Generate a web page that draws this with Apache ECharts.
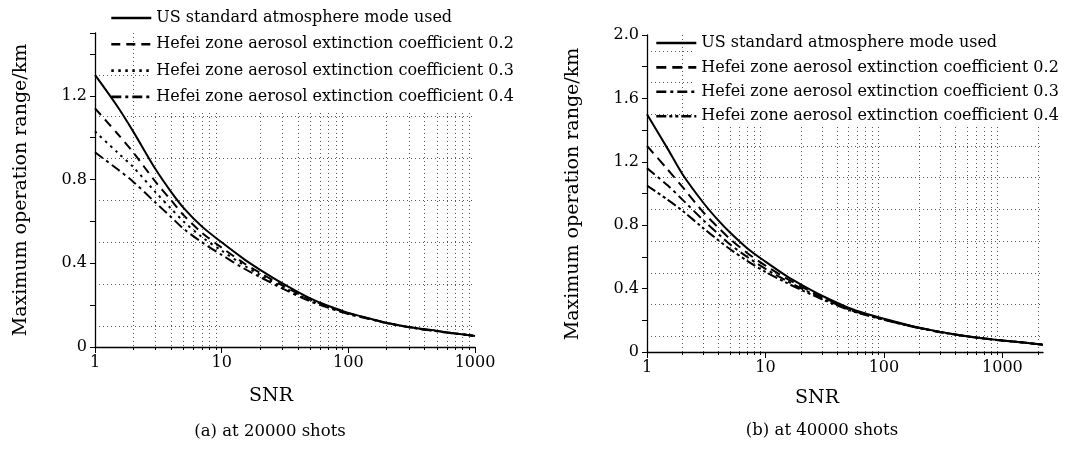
<!DOCTYPE html>
<html><head><meta charset="utf-8">
<script src="https://cdn.jsdelivr.net/npm/echarts@6/dist/echarts.min.js"></script>
<style>html,body{margin:0;padding:0;background:#fff}#c{width:1067px;height:449px}</style>
</head><body><div id="c"></div><script>
// ---------- data ----------
const namesA = ['US standard atmosphere mode used','Hefei zone aerosol extinction coefficient 0.2','Hefei zone aerosol extinction coefficient 0.3','Hefei zone aerosol extinction coefficient 0.4'];
const namesB = namesA;
const snrA = [1, 1.5, 2, 3, 4, 5, 7, 10, 15, 20, 30, 50, 70, 100, 150, 200, 300, 500, 700, 1000];
const usA  = [1.30, 1.15, 1.03, 0.85, 0.74, 0.665, 0.575, 0.50, 0.42, 0.37, 0.305, 0.232, 0.196, 0.163, 0.135, 0.116, 0.096, 0.077, 0.065, 0.053];
const h02A = [1.14, 1.02, 0.93, 0.79, 0.70, 0.63, 0.545, 0.475, 0.40, 0.355, 0.295, 0.227, 0.193, 0.161, 0.134, 0.115, 0.095, 0.076, 0.065, 0.053];
const h03A = [1.03, 0.93, 0.86, 0.74, 0.66, 0.60, 0.525, 0.46, 0.39, 0.345, 0.288, 0.223, 0.19, 0.159, 0.133, 0.115, 0.095, 0.076, 0.064, 0.053];
const h04A = [0.93, 0.85, 0.79, 0.69, 0.62, 0.565, 0.50, 0.44, 0.375, 0.335, 0.28, 0.218, 0.187, 0.157, 0.132, 0.114, 0.094, 0.075, 0.064, 0.053];

const snrB = [1, 1.5, 2, 3, 4, 5, 7, 10, 15, 20, 30, 50, 70, 100, 150, 200, 300, 500, 700, 1000, 1500, 2200];
const usB  = [1.50, 1.28, 1.12, 0.94, 0.83, 0.755, 0.655, 0.57, 0.48, 0.425, 0.355, 0.28, 0.243, 0.21, 0.175, 0.153, 0.127, 0.1, 0.086, 0.073, 0.06, 0.046];
const h02B = [1.30, 1.15, 1.04, 0.88, 0.785, 0.715, 0.625, 0.545, 0.465, 0.413, 0.347, 0.275, 0.24, 0.207, 0.173, 0.152, 0.126, 0.1, 0.086, 0.073, 0.06, 0.046];
const h03B = [1.16, 1.05, 0.96, 0.83, 0.745, 0.68, 0.60, 0.525, 0.45, 0.402, 0.34, 0.27, 0.236, 0.205, 0.172, 0.151, 0.125, 0.099, 0.085, 0.072, 0.06, 0.046];
const h04B = [1.05, 0.96, 0.89, 0.78, 0.705, 0.65, 0.575, 0.505, 0.437, 0.392, 0.333, 0.266, 0.233, 0.203, 0.17, 0.15, 0.125, 0.099, 0.085, 0.072, 0.06, 0.046];

const xMajor = [1, 10, 100, 1000];
const xLabels = ['1', '10', '100', '1000'];
const xMinorA = [2,3,4,5,6,7,8,9,20,30,40,50,60,70,80,90,200,300,400,500,600,700,800,900];
const xMinorB = [2,3,4,5,6,7,8,9,20,30,40,50,60,70,80,90,200,300,400,500,600,700,800,900,2000];
const yLabelA = [0, 0.4, 0.8, 1.2];
const yLabelB = [0, 0.4, 0.8, 1.2, 1.6, 2.0];
const yGridA = [0.1, 0.3, 0.5, 0.7, 0.9, 1.1, 1.3];
const yGridB = [0.1, 0.3, 0.5, 0.7, 0.9, 1.1, 1.3, 1.5, 1.7, 1.9];
const xName = 'SNR';
const yName = 'Maximum operation range/km';
const captionA = '(a) at 20000 shots';
const captionB = '(b) at 40000 shots';

// ---------- styles ----------
const FONT = 'DejaVu Serif';
const dashA = ['solid', [9, 6], [2.5, 4.5], [10, 4, 3, 4]];
const dashB = ['solid', [10, 6], [10, 4, 3, 4], [10, 3, 3, 3, 3, 3]];

function pairs(x, y) { return x.map((v, i) => [v, y[i]]); }
function line(name, x, y, dash, xi, yi) {
  return {
    type: 'line', name, data: pairs(x, y), xAxisIndex: xi, yAxisIndex: yi,
    symbol: 'none', smooth: 0.3, silent: true, animation: false,
    lineStyle: { color: '#000', width: 2, type: dash, cap: 'butt' }
  };
}
function xAxes(grid, max, minor) {
  return [{
    gridIndex: grid, type: 'log', logBase: 10, min: 1, max: max, position: 'bottom',
    axisLine: { show: true, onZero: false, lineStyle: { color: '#000', width: 1.3 } },
    axisTick: { show: true, customValues: xMajor, length: 6, lineStyle: { color: '#000', width: 1 } },
    axisLabel: { customValues: xMajor, formatter: v => xLabels[xMajor.indexOf(v)] ?? String(v),
      fontFamily: FONT, fontSize: 16, color: '#000', margin: 8 },
    splitLine: { show: false }, minorTick: { show: false }
  }, {
    gridIndex: grid, type: 'log', logBase: 10, min: 1, max: max, position: 'bottom',
    axisLine: { show: false },
    axisTick: { show: true, customValues: minor, length: 3, lineStyle: { color: '#000', width: 1 } },
    axisLabel: { show: false },
    splitLine: { show: true, lineStyle: { color: '#555', width: 1, type: [1, 3] } }
  }];
}
function yAxes(grid, max, labels, gridVals) {
  return [{
    gridIndex: grid, type: 'value', min: 0, max: max, interval: 0.2, position: 'left',
    axisLine: { show: true, onZero: false, lineStyle: { color: '#000', width: 1.3 } },
    axisTick: { show: true, length: 5, lineStyle: { color: '#000', width: 1 } },
    axisLabel: { customValues: labels, formatter: v => v === 0 ? '0' : v.toFixed(1),
      fontFamily: FONT, fontSize: 16, color: '#000', margin: 8 },
    splitLine: { show: false }
  }, {
    gridIndex: grid, type: 'value', min: 0, max: max, position: 'left',
    axisLine: { show: false },
    axisTick: { show: false, customValues: gridVals },
    axisLabel: { show: false },
    splitLine: { show: true, lineStyle: { color: '#555', width: 1, type: [1, 3] } }
  }];
}
function legend(names, dashes, left, top, gap) {
  return {
    orient: 'vertical', left, top, itemWidth: 40, itemHeight: 16, itemGap: gap,
    selectedMode: false, padding: 0,
    itemStyle: { opacity: 0 },
    textStyle: { fontFamily: FONT, fontSize: 16, color: '#000', lineHeight: 16 },
    data: names.map((n, i) => ({ name: n,
      lineStyle: { color: '#000', width: 2.6, type: dashes[i], opacity: 1 },
      itemStyle: { opacity: 0, borderWidth: 0 } }))
  };
}

const chart = echarts.init(document.getElementById('c'), null, { renderer: 'canvas' });
chart.setOption({
  animation: false,
  backgroundColor: '#fff',
  grid: [
    { left: 95, top: 33, width: 380, height: 314 },
    { left: 647, top: 35, width: 396, height: 317 }
  ],
  xAxis: [...xAxes(0, 1000, xMinorA), ...xAxes(1, 2200, xMinorB)],
  yAxis: [...yAxes(0, 1.5, yLabelA, yGridA), ...yAxes(1, 2.0, yLabelB, yGridB)],
  legend: [legend(namesA, dashA, 110, 10, 10.3), legend(namesB, dashB, 655, 35, 8.4)],
  series: [
    line(namesA[0], snrA, usA, dashA[0], 0, 0),
    line(namesA[1], snrA, h02A, dashA[1], 0, 0),
    line(namesA[2], snrA, h03A, dashA[2], 0, 0),
    line(namesA[3], snrA, h04A, dashA[3], 0, 0),
    line(namesB[0], snrB, usB, dashB[0], 2, 2),
    line(namesB[1], snrB, h02B, dashB[1], 2, 2),
    line(namesB[2], snrB, h03B, dashB[2], 2, 2),
    line(namesB[3], snrB, h04B, dashB[3], 2, 2)
  ],
  graphic: [
    { type: 'rect', z: 1, silent: true, shape: { x: 149, y: 30, width: 370, height: 80 }, style: { fill: '#fff' } },
    { type: 'rect', z: 1, silent: true, shape: { x: 695, y: 30, width: 372, height: 96 }, style: { fill: '#fff' } },
    { type: 'text', z: 5, x: 271, y: 396, style: { text: xName, font: '19px "DejaVu Serif"', fill: '#000', align: 'center', verticalAlign: 'middle' } },
    { type: 'text', z: 5, x: 817, y: 398, style: { text: xName, font: '19px "DejaVu Serif"', fill: '#000', align: 'center', verticalAlign: 'middle' } },
    { type: 'text', z: 5, x: 21, y: 190, rotation: Math.PI / 2, style: { text: yName, font: '19px "DejaVu Serif"', fill: '#000', align: 'center', verticalAlign: 'middle' } },
    { type: 'text', z: 5, x: 573, y: 194, rotation: Math.PI / 2, style: { text: yName, font: '19px "DejaVu Serif"', fill: '#000', align: 'center', verticalAlign: 'middle' } },
    { type: 'text', z: 5, x: 270, y: 432, style: { text: captionA, font: '16.5px "DejaVu Serif"', fill: '#000', align: 'center', verticalAlign: 'middle' } },
    { type: 'text', z: 5, x: 822, y: 431, style: { text: captionB, font: '16.5px "DejaVu Serif"', fill: '#000', align: 'center', verticalAlign: 'middle' } }
  ]
});
</script></body></html>
